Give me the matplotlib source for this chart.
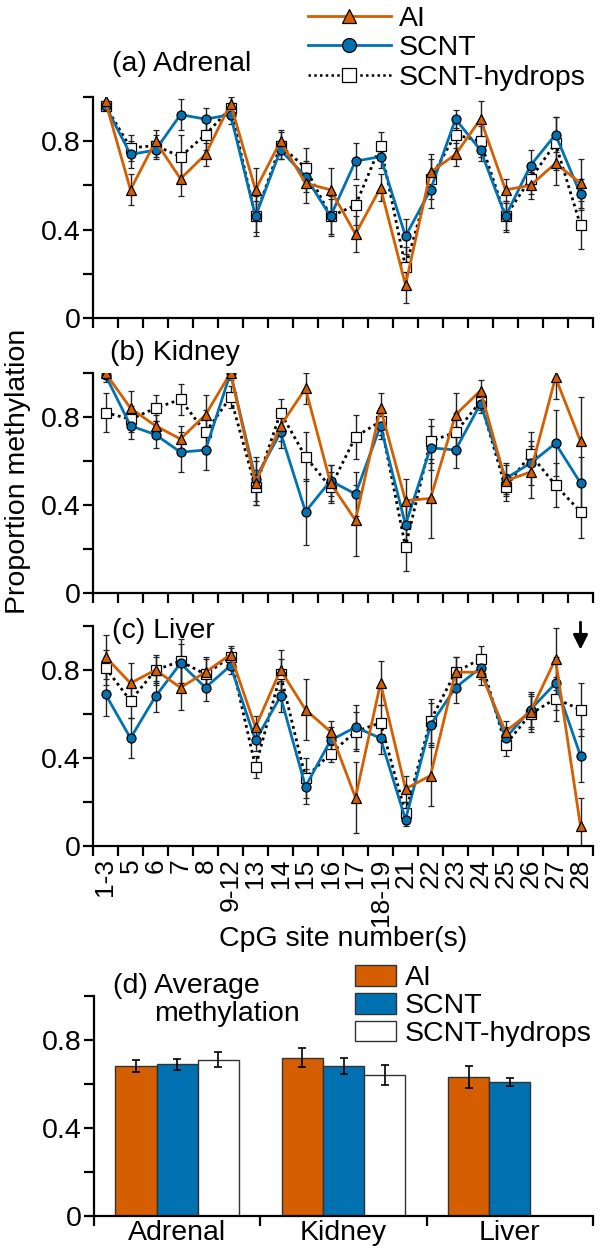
import numpy as np
import matplotlib
matplotlib.use("Agg")
import matplotlib.pyplot as plt
from matplotlib.lines import Line2D
from matplotlib.patches import Patch

plt.rcParams["font.family"] = ["Liberation Sans", "DejaVu Sans"]

sites = ["1-3", "5", "6", "7", "8", "9-12", "13", "14", "15", "16", "17",
         "18-19", "21", "22", "23", "24", "25", "26", "27", "28"]

# panel (a) adrenal
adr_ai = [0.98, 0.58, 0.80, 0.63, 0.74, 0.97, 0.58, 0.80, 0.61, 0.58, 0.38, 0.59, 0.15, 0.66, 0.74, 0.90, 0.58, 0.60, 0.70, 0.61]
adr_scnt = [0.96, 0.74, 0.76, 0.92, 0.90, 0.92, 0.46, 0.76, 0.64, 0.46, 0.71, 0.73, 0.37, 0.58, 0.90, 0.76, 0.46, 0.69, 0.83, 0.56]
adr_hyd = [0.96, 0.77, 0.78, 0.73, 0.83, 0.95, 0.46, 0.78, 0.68, 0.46, 0.51, 0.78, 0.23, 0.63, 0.83, 0.80, 0.46, 0.63, 0.79, 0.42]
adr_ai_err = [0.03, 0.07, 0.05, 0.08, 0.05, 0.04, 0.10, 0.05, 0.09, 0.10, 0.08, 0.06, 0.08, 0.08, 0.05, 0.08, 0.05, 0.06, 0.10, 0.11]
adr_scnt_err = [0.02, 0.06, 0.04, 0.07, 0.05, 0.04, 0.07, 0.04, 0.07, 0.08, 0.08, 0.05, 0.08, 0.08, 0.04, 0.05, 0.06, 0.07, 0.08, 0.07]
adr_hyd_err = [0.02, 0.06, 0.05, 0.10, 0.07, 0.05, 0.09, 0.06, 0.09, 0.09, 0.09, 0.06, 0.09, 0.09, 0.06, 0.07, 0.07, 0.07, 0.12, 0.11]

# panel (b) kidney
kid_ai = [1.00, 0.84, 0.76, 0.70, 0.81, 1.00, 0.50, 0.76, 0.93, 0.50, 0.33, 0.84, 0.42, 0.43, 0.81, 0.92, 0.51, 0.55, 0.98, 0.69]
kid_scnt = [0.99, 0.76, 0.72, 0.64, 0.65, 1.00, 0.52, 0.73, 0.37, 0.51, 0.45, 0.76, 0.31, 0.66, 0.65, 0.86, 0.52, 0.59, 0.68, 0.50]
kid_hyd = [0.82, 0.79, 0.84, 0.88, 0.73, 0.89, 0.48, 0.82, 0.62, 0.48, 0.71, 0.78, 0.21, 0.69, 0.73, 0.87, 0.48, 0.63, 0.49, 0.37]
kid_ai_err = [0.02, 0.08, 0.05, 0.06, 0.09, 0.02, 0.10, 0.07, 0.07, 0.08, 0.16, 0.07, 0.10, 0.18, 0.10, 0.05, 0.07, 0.12, 0.10, 0.20]
kid_scnt_err = [0.03, 0.06, 0.06, 0.09, 0.09, 0.03, 0.10, 0.07, 0.15, 0.07, 0.10, 0.06, 0.10, 0.10, 0.08, 0.04, 0.07, 0.10, 0.15, 0.12]
kid_hyd_err = [0.09, 0.06, 0.06, 0.07, 0.10, 0.05, 0.08, 0.06, 0.11, 0.07, 0.10, 0.06, 0.11, 0.10, 0.09, 0.04, 0.06, 0.10, 0.10, 0.12]

# panel (c) liver
liv_ai = [0.86, 0.74, 0.80, 0.72, 0.79, 0.87, 0.54, 0.80, 0.62, 0.52, 0.22, 0.74, 0.26, 0.32, 0.79, 0.79, 0.52, 0.61, 0.85, 0.09]
liv_scnt = [0.69, 0.49, 0.68, 0.83, 0.72, 0.82, 0.48, 0.68, 0.27, 0.48, 0.54, 0.49, 0.12, 0.55, 0.72, 0.81, 0.49, 0.62, 0.74, 0.41]
liv_hyd = [0.81, 0.66, 0.80, 0.84, 0.78, 0.86, 0.36, 0.78, 0.31, 0.42, 0.52, 0.56, 0.15, 0.57, 0.79, 0.85, 0.46, 0.60, 0.67, 0.62]
liv_ai_err = [0.10, 0.09, 0.06, 0.10, 0.07, 0.04, 0.05, 0.09, 0.14, 0.05, 0.16, 0.10, 0.06, 0.14, 0.07, 0.06, 0.05, 0.08, 0.14, 0.13]
liv_scnt_err = [0.10, 0.09, 0.07, 0.09, 0.06, 0.04, 0.05, 0.07, 0.08, 0.06, 0.10, 0.07, 0.03, 0.10, 0.07, 0.05, 0.05, 0.08, 0.12, 0.12]
liv_hyd_err = [0.08, 0.08, 0.07, 0.10, 0.07, 0.04, 0.05, 0.07, 0.09, 0.04, 0.09, 0.08, 0.05, 0.10, 0.07, 0.06, 0.05, 0.08, 0.10, 0.12]

# panel (d) averages
tissues = ["Adrenal", "Kidney", "Liver"]
avg_ai = [0.68, 0.72, 0.63]
avg_scnt = [0.69, 0.68, 0.61]
avg_hyd = [0.71, 0.64]          # no SCNT-hydrops bar for liver
avg_ai_err = [0.027, 0.042, 0.05]
avg_scnt_err = [0.025, 0.036, 0.018]
avg_hyd_err = [0.034, 0.045]

ORANGE = "#D55E00"
BLUE = "#0072B2"
W, H = 600, 1253
FS = 20.5

fig = plt.figure(figsize=(W / 100, H / 100), dpi=100)

def axes_px(left, top, right, bottom):
    return fig.add_axes([left / W, 1 - bottom / H, (right - left) / W, (bottom - top) / H])

def style_axes(ax):
    for s in ("top", "right"):
        ax.spines[s].set_visible(False)
    for s in ("left", "bottom"):
        ax.spines[s].set_linewidth(1.6)
    ax.set_ylim(0, 1)
    ax.set_yticks(np.arange(0, 1.01, 0.2))
    ax.set_yticklabels(["0", "", "0.4", "", "0.8", ""])
    ax.tick_params(axis="y", direction="out", length=7, width=1.6, labelsize=FS, pad=2)
    ax.tick_params(axis="x", which="major", direction="out", length=7, width=1.6, labelbottom=False)

def site_panel(ax, ai, scnt, hyd, ai_err, scnt_err, hyd_err, show_labels):
    x = np.arange(len(sites)) + 0.5
    eb = dict(ecolor="#222222", elinewidth=1.0, capsize=2.5, capthick=1.0)
    ax.errorbar(x, hyd, yerr=hyd_err, color="black", ls=(0, (1, 1.3)), lw=2.0, marker="s",
                ms=6.5, mfc="white", mec="black", mew=0.9, **eb)
    ax.errorbar(x, scnt, yerr=scnt_err, color=BLUE, lw=2.0, marker="o",
                ms=6.5, mfc=BLUE, mec="black", mew=0.9, **eb)
    ax.errorbar(x, ai, yerr=ai_err, color=ORANGE, lw=2.0, marker="^",
                ms=7, mfc=ORANGE, mec="black", mew=0.9, **eb)
    ax.set_xlim(0, len(sites))
    style_axes(ax)
    ax.set_xticks(np.arange(len(sites) + 1))
    ax.set_xticks(x, minor=True)
    ax.tick_params(axis="x", which="minor", length=0)
    if show_labels:
        ax.set_xticklabels(sites, minor=True, rotation=90, fontsize=19, va="top", ha="center")
        ax.tick_params(axis="x", which="minor", pad=9)
    else:
        ax.tick_params(axis="x", which="minor", labelbottom=False)

ax_a = axes_px(93, 97, 593, 318)
site_panel(ax_a, adr_ai, adr_scnt, adr_hyd, adr_ai_err, adr_scnt_err, adr_hyd_err, False)
ax_b = axes_px(93, 373, 593, 593)
site_panel(ax_b, kid_ai, kid_scnt, kid_hyd, kid_ai_err, kid_scnt_err, kid_hyd_err, False)
ax_c = axes_px(93, 626, 593, 846)
site_panel(ax_c, liv_ai, liv_scnt, liv_hyd, liv_ai_err, liv_scnt_err, liv_hyd_err, True)
ax_c.annotate("", xy=(19.5, 0.88), xytext=(19.5, 1.03), annotation_clip=False,
              arrowprops=dict(arrowstyle="-|>", color="black", lw=2, mutation_scale=22))
ax_c.set_xlabel("CpG site number(s)", fontsize=FS, labelpad=0)

fig.text(112 / W, 1 - 64 / H, "(a) Adrenal", fontsize=FS, va="center", ha="left")
fig.text(110 / W, 1 - 353 / H, "(b) Kidney", fontsize=FS, va="center", ha="left")
fig.text(112 / W, 1 - 631 / H, "(c) Liver", fontsize=FS, va="center", ha="left")
fig.text(18 / W, 1 - 471 / H, "Proportion methylation", fontsize=FS, rotation=90,
         va="center", ha="center")

handles = [Line2D([], [], color=ORANGE, lw=2, marker="^", ms=10, mfc=ORANGE, mec="black", mew=0.9),
           Line2D([], [], color=BLUE, lw=2, marker="o", ms=10, mfc=BLUE, mec="black", mew=0.9),
           Line2D([], [], color="black", lw=1.8, ls=(0, (1, 1.3)), marker="s", ms=10, mfc="white",
                  mec="black", mew=0.9)]
fig.legend(handles, ["AI", "SCNT", "SCNT-hydrops"], loc="upper left",
           bbox_to_anchor=(308 / W, 1 - 6 / H), frameon=False, fontsize=FS, borderpad=0,
           borderaxespad=0, handlelength=2.9, handletextpad=0.3, labelspacing=0.12)

# panel (d)
ax_d = axes_px(94, 996, 593, 1216)
g = np.arange(len(tissues)) + 0.5
bw = 0.248
bar_kw = dict(width=bw, edgecolor="#333333", linewidth=1.0,
              error_kw=dict(ecolor="black", elinewidth=1.2, capsize=3, capthick=1.2))
ax_d.bar(g - bw, avg_ai, yerr=avg_ai_err, color=ORANGE, **bar_kw)
ax_d.bar(g, avg_scnt, yerr=avg_scnt_err, color=BLUE, **bar_kw)
ax_d.bar(g[:len(avg_hyd)] + bw, avg_hyd, yerr=avg_hyd_err, color="white", **bar_kw)
ax_d.set_xlim(0, len(tissues))
style_axes(ax_d)
ax_d.set_xticks(np.arange(len(tissues) + 1))
ax_d.set_xticks(g, minor=True)
ax_d.set_xticklabels(tissues, minor=True, fontsize=FS)
ax_d.tick_params(axis="x", which="minor", length=0, pad=3)

fig.text(113 / W, 1 - 986 / H, "(d) Average", fontsize=FS, va="center", ha="left")
fig.text(154 / W, 1 - 1014 / H, "methylation", fontsize=FS, va="center", ha="left")

bar_handles = [Patch(facecolor=ORANGE, edgecolor="#333333"),
               Patch(facecolor=BLUE, edgecolor="#333333"),
               Patch(facecolor="white", edgecolor="#333333")]
fig.legend(bar_handles, ["AI", "SCNT", "SCNT-hydrops"], loc="upper left",
           bbox_to_anchor=(355 / W, 1 - 965 / H), frameon=False, fontsize=FS, borderpad=0,
           borderaxespad=0, handlelength=1.45, handleheight=0.75, handletextpad=0.3,
           labelspacing=0.05)

fig.savefig("out.png", dpi=100)
